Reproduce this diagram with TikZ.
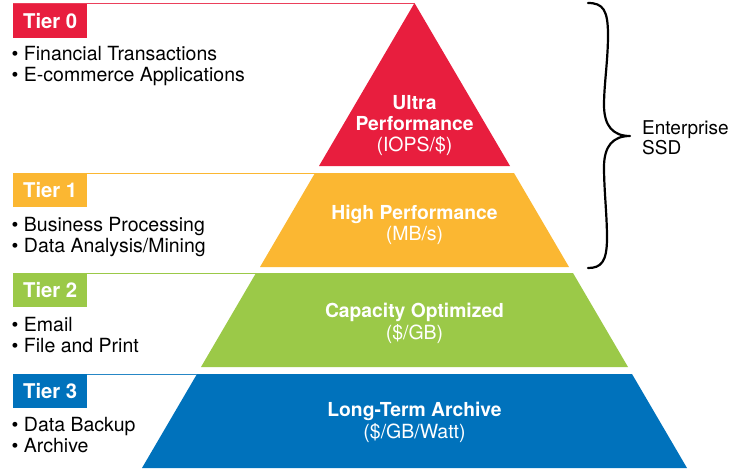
\documentclass[tikz,border=0pt]{standalone}
\usepackage{fontspec}
\setmainfont{TeX Gyre Heros}
\definecolor{tred}{RGB}{232,30,62}
\definecolor{tyellow}{RGB}{251,183,50}
\definecolor{tgreen}{RGB}{155,201,72}
\definecolor{tblue}{RGB}{0,114,188}
\begin{document}
\begin{tikzpicture}[x=1pt,y=-1pt,
  body/.style={anchor=base west, inner sep=0pt, font=\fontsize{19.5}{21}\selectfont},
  sidetext/.style={anchor=base west, inner sep=0pt, font=\fontsize{19}{21}\selectfont},
  tierbox/.style={anchor=north west, minimum width=74pt, minimum height=34pt, inner sep=0pt,
     text=white, font=\fontsize{20.3}{22}\selectfont\bfseries},
  bandtitle/.style={anchor=base, inner sep=0pt, text=white, font=\fontsize{19.3}{21}\selectfont\bfseries},
  bandsub/.style={anchor=base, inner sep=0pt, text=white, font=\fontsize{19.5}{21}\selectfont},
  guide/.style={line width=0.9pt},
  bracestyle/.style={line width=2.2pt, line cap=round, line join=round}
]
\useasboundingbox (0,0) rectangle (743,468);
% pyramid bands
\coordinate (apex) at (414.5,3);
\coordinate (rL) at (319,166); \coordinate (rR) at (510,166);
\coordinate (yTL) at (315,173); \coordinate (yTR) at (514,173);
\coordinate (yBL) at (260,267); \coordinate (yBR) at (569,267);
\coordinate (gTL) at (256,273); \coordinate (gTR) at (573,273);
\coordinate (gBL) at (201,367); \coordinate (gBR) at (628,367);
\coordinate (bTL) at (197,374); \coordinate (bTR) at (632,374);
\coordinate (bBL) at (142,468); \coordinate (bBR) at (687,468);
\fill[tred] (apex) -- (rR) -- (rL) -- cycle;
\fill[tyellow] (yTL) -- (yTR) -- (yBR) -- (yBL) -- cycle;
\fill[tgreen] (gTL) -- (gTR) -- (gBR) -- (gBL) -- cycle;
\fill[tblue] (bTL) -- (bTR) -- (bBR) -- (bBL) -- cycle;
% guide lines
\coordinate (l0) at (13,3); \coordinate (l1) at (13,173);
\coordinate (l2) at (13,273); \coordinate (l3) at (13,374);
\draw[guide, tred!85] (l0) -- (apex);
\draw[guide, tyellow] (l1) -- (yTL);
\draw[guide, tgreen] (l2) -- (gTL);
\draw[guide, tblue!85] (l3) -- (bTL);
% tier boxes
\node[tierbox, fill=tred] (tier0) at (13,3.5) {Tier 0};
\node[tierbox, fill=tyellow] (tier1) at (13,173) {Tier 1};
\node[tierbox, fill=tgreen] (tier2) at (13,273) {Tier 2};
\node[tierbox, fill=tblue] (tier3) at (13,374) {Tier 3};
% bullets
\node[body] (b0a) at (11.5,61) {• Financial Transactions};
\node[body] (b0b) at (11.5,82) {• E-commerce Applications};
\node[body] (b1a) at (11.5,231.5) {• Business Processing};
\node[body] (b1b) at (11.5,252) {• Data Analysis/Mining};
\node[body] (b2a) at (11.5,331) {• Email};
\node[body] (b2b) at (11.5,352.5) {• File and Print};
\node[body] (b3a) at (11.5,431.5) {• Data Backup};
\node[body] (b3b) at (11.5,452.5) {• Archive};
% band labels
\node[bandtitle] (u1) at (414.5,110) {Ultra};
\node[bandtitle] (u2) at (414.5,130.5) {Performance};
\node[bandsub] (u3) at (414.5,151.5) {(IOPS/\$)};
\node[bandtitle] (h1) at (414.5,219) {High Performance};
\node[bandsub] (h2) at (414.5,240.5) {(MB/s)};
\node[bandtitle] (c1) at (414.5,317.5) {Capacity Optimized};
\node[bandsub] (c2) at (414.5,339) {(\$/GB)};
\node[bandtitle] (a1) at (414.5,416.5) {Long-Term Archive};
\node[bandsub] (a2) at (414.5,438) {(\$/GB/Watt)};
% brace
\coordinate (brtop) at (588,3);
\coordinate (brtip) at (630,136);
\coordinate (brbot) at (588,268);
\draw[bracestyle] (brtop) .. controls (603,3) and (608,10) .. (608,35)
   .. controls (608,60) and (604,85) .. (604,105)
   .. controls (604,126) and (613,136) .. (brtip)
   .. controls (613,136) and (604,146) .. (604,167)
   .. controls (604,190) and (607,215) .. (607,238)
   .. controls (607,262) and (601,268) .. (brbot);
\node[sidetext] (ent1) at (642,134) {Enterprise};
\node[sidetext] (ent2) at (642,154) {SSD};
\end{tikzpicture}
\end{document}
